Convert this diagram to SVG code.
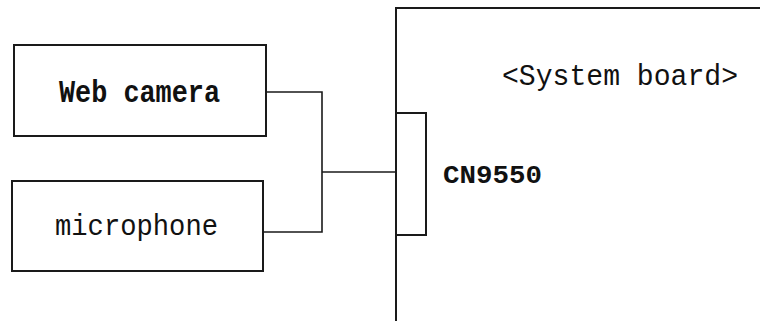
<svg xmlns="http://www.w3.org/2000/svg" width="760" height="321" viewBox="0 0 760 321">
<style>
.box{fill:#fff;stroke:#1a1a1a;stroke-width:2}
.wire{fill:none;stroke:#1a1a1a;stroke-width:1.6}
.t{font-family:"Liberation Mono","DejaVu Sans Mono",monospace;fill:#111}
</style>
<rect width="760" height="321" fill="#fff"/>
<g id="system-board">
<rect class="box" x="396" y="8" width="380" height="330"/>
<text class="t" x="502" y="85" font-size="29" textLength="236" lengthAdjust="spacingAndGlyphs">&lt;System board&gt;</text>
</g>
<g id="cn9550">
<rect class="box" x="396" y="113" width="30" height="122"/>
<text class="t" x="443" y="183" font-size="25" font-weight="bold" textLength="99" lengthAdjust="spacingAndGlyphs">CN9550</text>
</g>
<g id="web-camera">
<rect class="box" x="14" y="45" width="252" height="91"/>
<text class="t" x="59" y="102" font-size="32" font-weight="bold" textLength="161" lengthAdjust="spacingAndGlyphs">Web camera</text>
</g>
<g id="microphone">
<rect class="box" x="12" y="181" width="251" height="90"/>
<text class="t" x="55" y="235" font-size="30" textLength="163" lengthAdjust="spacingAndGlyphs">microphone</text>
</g>
<g id="connectors">
<polyline class="wire" points="266,92 322,92 322,232 263,232"/>
<line class="wire" x1="322" y1="172" x2="396" y2="172"/>
</g>
</svg>
